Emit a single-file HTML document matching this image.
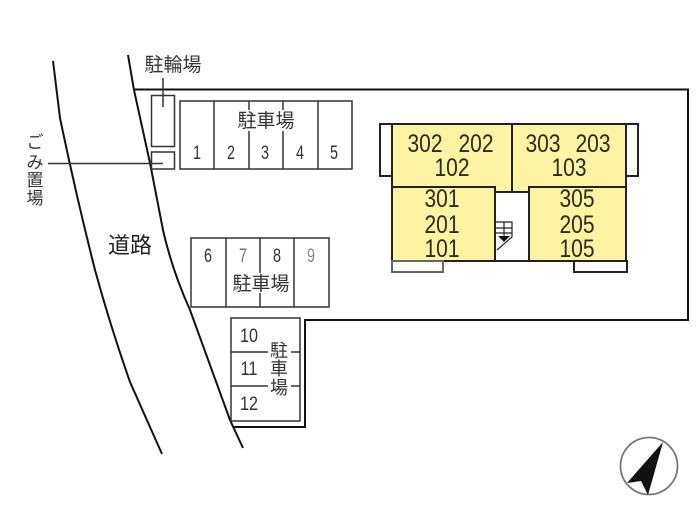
<!DOCTYPE html>
<html><head><meta charset="utf-8">
<style>
html,body{margin:0;padding:0;background:#fff;width:700px;height:524px;overflow:hidden}
svg{display:block;filter:blur(.3px)}
text{font-family:"Liberation Sans","Noto Sans CJK JP",sans-serif;fill:#2a2a2a;text-anchor:middle}
.j{font-size:19px;fill:#333}
.n{font-size:19px;fill:#333}
.u{font-size:25px;fill:#2b2a1a}
</style></head><body>
<svg width="700" height="524" viewBox="0 0 700 524" xmlns="http://www.w3.org/2000/svg">
<g fill="none" stroke="#111" stroke-width="2">
<path d="M53 61 L60 118 Q76 195 95 270 Q110 325 130 382 L162 454"/>
<path d="M128 55 L134 90 L150 163 L163 230 Q172 270 190 310 L230 420 L243 448"/>
<path d="M134 89.500H688V320H305V427H233"/>
</g>
<g fill="none" stroke="#333" stroke-width="1.500">
<rect x="151.500" y="95.500" width="23" height="51"/>
<rect x="151.500" y="152" width="23" height="17"/>
<path d="M163 78V107M48 163.500H163"/>
<rect x="180" y="101" width="172" height="68"/>
<path d="M214 101V169M249 101V169M283 101V169M318 101V169"/>
<rect x="191" y="238" width="138" height="69"/>
<path d="M226 238V307M260 238V307M294 238V307"/>
<rect x="231" y="318" width="69" height="103"/>
<path d="M231 352H268M291 352H300M231 386H268M291 386H300"/>
</g>
<rect x="268" y="342" width="23" height="60" fill="#fff"/>
<rect x="237" y="110" width="58" height="21" fill="#fff"/>
<rect x="233" y="273" width="60" height="20" fill="#fff"/>
<path d="M392 124H626V187H529V192H495V186H392Z" fill="#fcf3a3" stroke="none"/>
<path d="M392 124H626M512 124V192M495 192H529" fill="none" stroke="#222" stroke-width="2"/>
<g fill="#fcf3a3" stroke="#222" stroke-width="2">
<rect x="392" y="187" width="103" height="74"/>
<rect x="529" y="187" width="97" height="74"/>
</g>
<path d="M392 124V187M626 124V187" stroke="#222" stroke-width="2" fill="none"/>
<rect x="496" y="193" width="32" height="67" fill="#fff"/>
<path d="M495 261H529" stroke="#222" stroke-width="2" fill="none"/>
<g fill="#fff" stroke="#222" stroke-width="2">
<rect x="380" y="124" width="12" height="52"/>
<rect x="626" y="124" width="12" height="52"/>
<rect x="392" y="261" width="51" height="11" stroke="#666"/>
<rect x="574" y="261" width="53" height="11"/>
</g>
<g fill="none" stroke="#222" stroke-width="1.200">
<path d="M496 222H512V237L497 250M496 228H512M496 233H512M504 222V236"/>
</g>
<path d="M498 236H510L504 242Z" fill="#111"/>
<g>
<text class="j" x="173" y="71">駐輪場</text>
<text class="j" x="266" y="127">駐車場</text>
<text class="j" x="261" y="290">駐車場</text>
<text class="j" x="279" y="357" style="font-size:18px">駐</text>
<text class="j" x="279" y="375" style="font-size:18px">車</text>
<text class="j" x="279" y="394" style="font-size:18px">場</text>
<text class="j" x="35" y="148" style="font-size:17px">ご</text>
<text class="j" x="35" y="168" style="font-size:17px">み</text>
<text class="j" x="35" y="186" style="font-size:17px">置</text>
<text class="j" x="35" y="204" style="font-size:17px">場</text>
<text x="130" y="253" style="font-size:22px;fill:#222">道路</text>
<text class="n" x="197" y="159" textLength="8" lengthAdjust="spacingAndGlyphs">1</text>
<text class="n" x="231" y="159" textLength="8" lengthAdjust="spacingAndGlyphs">2</text>
<text class="n" x="265" y="159" textLength="8" lengthAdjust="spacingAndGlyphs">3</text>
<text class="n" x="300" y="159" textLength="8" lengthAdjust="spacingAndGlyphs">4</text>
<text class="n" x="334" y="159" textLength="8" lengthAdjust="spacingAndGlyphs">5</text>
<text class="n" x="208" y="262" textLength="8" lengthAdjust="spacingAndGlyphs">6</text>
<text class="n" x="243" y="262" textLength="8" lengthAdjust="spacingAndGlyphs" style="fill:#777">7</text>
<text class="n" x="277" y="262" textLength="8" lengthAdjust="spacingAndGlyphs">8</text>
<text class="n" x="311" y="262" textLength="8" lengthAdjust="spacingAndGlyphs" style="fill:#888">9</text>
<text class="n" x="249" y="342" textLength="18" lengthAdjust="spacingAndGlyphs">10</text>
<text class="n" x="249" y="375" textLength="17" lengthAdjust="spacingAndGlyphs">11</text>
<text class="n" x="249" y="410" textLength="18" lengthAdjust="spacingAndGlyphs">12</text>
<text class="u" x="425" y="152" textLength="35" lengthAdjust="spacingAndGlyphs">302</text>
<text class="u" x="476" y="152" textLength="35" lengthAdjust="spacingAndGlyphs">202</text>
<text class="u" x="452" y="176" textLength="35" lengthAdjust="spacingAndGlyphs">102</text>
<text class="u" x="543" y="152" textLength="35" lengthAdjust="spacingAndGlyphs">303</text>
<text class="u" x="593" y="152" textLength="35" lengthAdjust="spacingAndGlyphs">203</text>
<text class="u" x="569" y="176" textLength="35" lengthAdjust="spacingAndGlyphs">103</text>
<text class="u" x="442" y="207" textLength="35" lengthAdjust="spacingAndGlyphs">301</text>
<text class="u" x="442" y="233" textLength="35" lengthAdjust="spacingAndGlyphs">201</text>
<text class="u" x="442" y="257" textLength="35" lengthAdjust="spacingAndGlyphs">101</text>
<text class="u" x="577" y="207" textLength="35" lengthAdjust="spacingAndGlyphs">305</text>
<text class="u" x="577" y="233" textLength="35" lengthAdjust="spacingAndGlyphs">205</text>
<text class="u" x="577" y="257" textLength="35" lengthAdjust="spacingAndGlyphs">105</text>
</g>
<circle cx="649" cy="466" r="28.500" fill="#fff" stroke="#777" stroke-width="1.800"/>
<path d="M663 442L648 495L641 481L627 483Z" fill="#111"/>
</svg>
</body></html>
